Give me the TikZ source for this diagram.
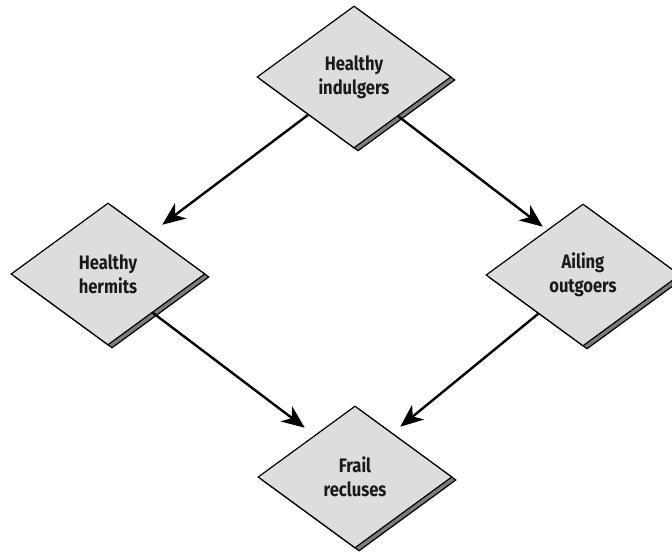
\documentclass[tikz,border=0pt]{standalone}
\usepackage{fontspec}
\newfontfamily\labelfont{Fira Sans}[FakeStretch=0.85]
\usetikzlibrary{shapes.geometric,shadows,arrows.meta}

\definecolor{boxfill}{RGB}{221,221,223}
\definecolor{edgeshade}{RGB}{125,125,125}
\definecolor{labeltext}{RGB}{25,25,30}

\tikzset{
  group/.style={
    diamond, draw=black, line width=1.2pt, fill=boxfill,
    minimum width=194pt, minimum height=142pt, inner sep=0pt,
    align=center, text=labeltext,
    font=\labelfont\bfseries\fontsize{19.5pt}{24pt}\selectfont,
    general shadow={fill=edgeshade, draw=black, line width=1.2pt,
                    shadow xshift=4pt, shadow yshift=-3pt}
  },
  flow/.style={line width=2.4pt, draw=black,
    -{Stealth[length=23pt,width=19pt,inset=7pt]}}
}

\begin{document}
\begin{tikzpicture}[x=1pt,y=-1pt]
  \useasboundingbox (0,0) rectangle (672,556);
  \fill[white] (0,0) rectangle (672,556);

  % the four groups
  \node[group] (indulgers) at (354,77)  {Healthy\\indulgers};
  \node[group] (hermits)   at (108,274) {Healthy\\hermits};
  \node[group] (outgoers)  at (583,275) {Ailing\\outgoers};
  \node[group] (recluses)  at (355,477) {Frail\\recluses};

  % transitions between groups
  \draw[flow] ([shift={(3,2)}]indulgers.south west)
           -- ([shift={(5.5,-13.5)}]hermits.north east);
  \draw[flow] ([shift={(-4.5,3.5)}]indulgers.south east)
           -- ([shift={(8.5,-12.5)}]outgoers.north west);
  \draw[flow] ([shift={(-4,3)}]hermits.south east)
           -- ([shift={(-1.5,-13.5)}]recluses.north west);
  \draw[flow] ([shift={(4,3)}]outgoers.south west)
           -- ([shift={(-3.5,-14.5)}]recluses.north east);
\end{tikzpicture}
\end{document}
